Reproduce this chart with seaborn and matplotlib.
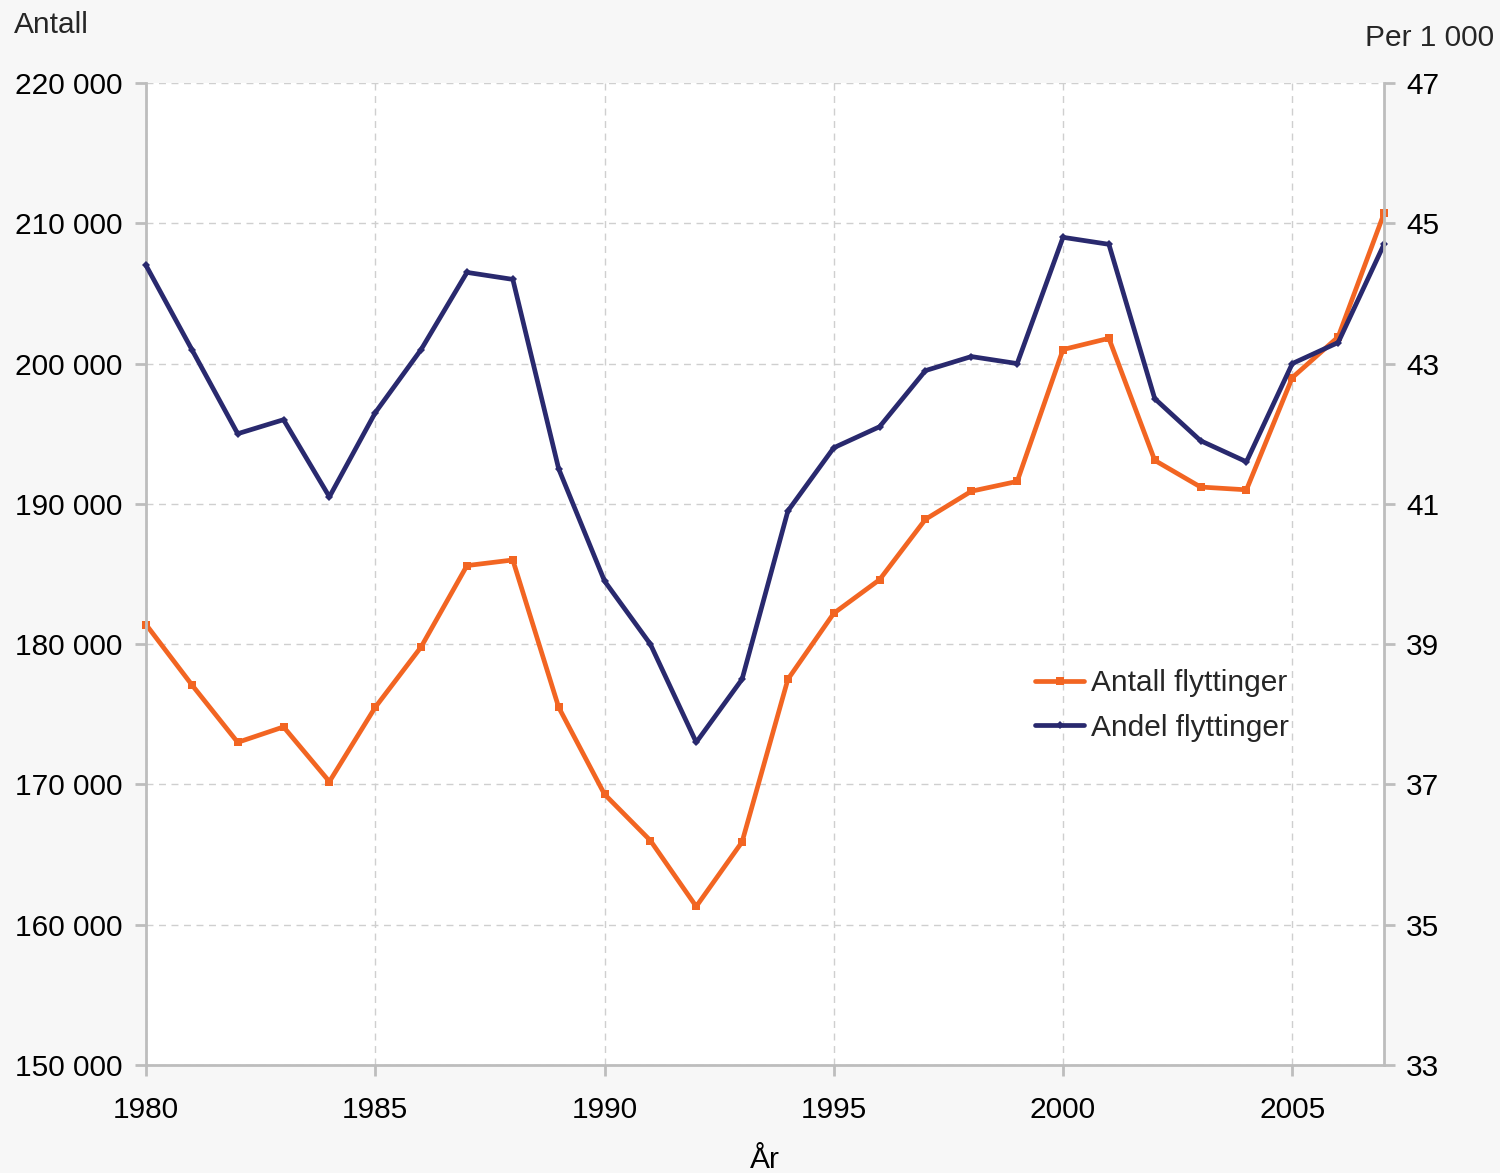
import matplotlib
matplotlib.use("Agg")
import matplotlib.pyplot as plt
import matplotlib.ticker as mticker
import seaborn as sns
import pandas as pd

years = list(range(1980, 2008))
antall = [181400, 177100, 173000, 174100, 170200, 175500, 179800, 185600, 186000, 175500,
          169300, 166000, 161300, 165900, 177500, 182200, 184600, 188900, 190900, 191600,
          201000, 201800, 193100, 191200, 191000, 199000, 201900, 210700]
andel = [44.4, 43.2, 42.0, 42.2, 41.1, 42.3, 43.2, 44.3, 44.2, 41.5,
         39.9, 39.0, 37.6, 38.5, 40.9, 41.8, 42.1, 42.9, 43.1, 43.0,
         44.8, 44.7, 42.5, 41.9, 41.6, 43.0, 43.3, 44.7]
x_ticks = [1980, 1985, 1990, 1995, 2000, 2005]
left_ticks = [150000, 160000, 170000, 180000, 190000, 200000, 210000, 220000]
right_ticks = [33, 35, 37, 39, 41, 43, 45, 47]

df = pd.DataFrame({"År": years, "Antall": antall, "Andel": andel})

sns.set_theme(style="white")
plt.rcParams["font.family"] = ["Liberation Sans", "DejaVu Sans"]

orange = "#F26522"
navy = "#29296E"
grid_c = "#CFCFCF"
spine_c = "#BDBDBD"
fs = 21.5

fig = plt.figure(figsize=(15, 11.73), dpi=100, facecolor="#F7F7F7")
ax = fig.add_axes([146 / 1500, 1 - 1065 / 1173, (1384 - 146) / 1500, (1065 - 83) / 1173])
ax.set_facecolor("white")
ax2 = ax.twinx()

sns.lineplot(data=df, x="År", y="Antall", ax=ax, color=orange, linewidth=3.4,
             marker="s", markersize=6, markeredgewidth=0, clip_on=False,
             label="Antall flyttinger", legend=False)
sns.lineplot(data=df, x="År", y="Andel", ax=ax2, color=navy, linewidth=3.4,
             marker="D", markersize=4, markeredgewidth=0, clip_on=False,
             label="Andel flyttinger", legend=False)

ax.set_xlim(1980, 2007)
ax.set_ylim(150000, 220000)
ax2.set_ylim(33, 47)
ax.set_xticks(x_ticks)
ax.set_yticks(left_ticks)
ax2.set_yticks(right_ticks)
ax.yaxis.set_major_formatter(mticker.FuncFormatter(lambda v, p: f"{int(v):,}".replace(",", " ")))
ax2.yaxis.set_major_formatter(mticker.FuncFormatter(lambda v, p: f"{int(v)}"))

ax.grid(True, color=grid_c, linestyle=(0, (5, 4)), linewidth=1)
ax.set_axisbelow(True)
for a in (ax, ax2):
    for s in a.spines.values():
        s.set_visible(False)
ax.spines["left"].set_visible(True)
ax.spines["bottom"].set_visible(True)
ax2.spines["right"].set_visible(True)
for s in (ax.spines["left"], ax.spines["bottom"], ax2.spines["right"]):
    s.set_color(spine_c)
    s.set_linewidth(2)

ax.tick_params(axis="y", which="major", direction="out", length=8, width=2, color=spine_c,
               labelsize=fs, pad=9, left=True)
ax.tick_params(axis="x", which="major", direction="out", length=8, width=2, color=spine_c,
               labelsize=fs, pad=14, bottom=True)
ax2.tick_params(axis="y", which="major", direction="out", length=8, width=2, color=spine_c,
                labelsize=fs, pad=8, right=True)
for lab in ax.get_yticklabels() + ax.get_xticklabels() + ax2.get_yticklabels():
    lab.set_color("black")

ax.set_xlabel("År", fontsize=fs, labelpad=16, color="black")
ax.set_ylabel("")
ax2.set_ylabel("")

fig.text(14 / 1500, 1 - 25 / 1173, "Antall", fontsize=fs, ha="left", va="center")
fig.text(1494 / 1500, 1 - 38 / 1173, "Per 1 000", fontsize=fs, ha="right", va="center")

h1, l1 = ax.get_legend_handles_labels()
h2, l2 = ax2.get_legend_handles_labels()
ax2.legend(h1 + h2, l1 + l2, loc="center left", bbox_to_anchor=(0.718, 0.366), frameon=False,
           fontsize=fs, handlelength=1.65, handletextpad=0.22, labelspacing=0.55,
           borderaxespad=0, borderpad=0)

fig.savefig("out.png", dpi=100, facecolor=fig.get_facecolor())
